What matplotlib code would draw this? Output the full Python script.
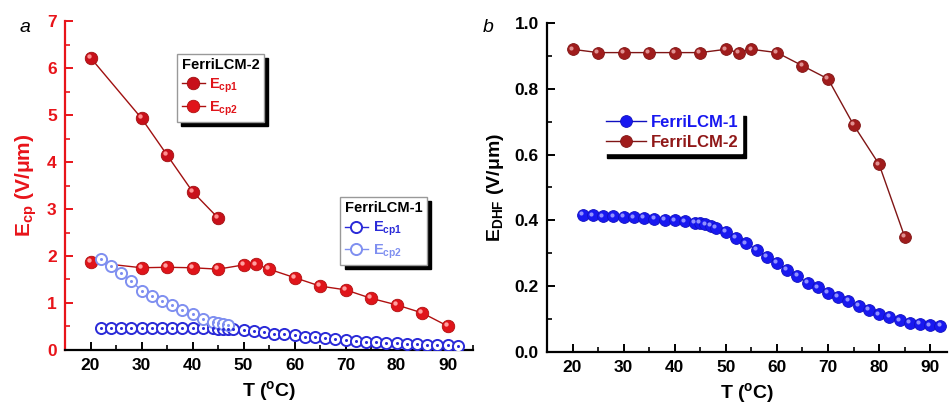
import matplotlib
matplotlib.use("Agg")
import matplotlib.pyplot as plt
import matplotlib.transforms as mtransforms
from matplotlib.ticker import MultipleLocator

plt.rcParams['font.family'] = ['Liberation Sans', 'DejaVu Sans']
plt.rcParams['font.weight'] = 'bold'
plt.rcParams['mathtext.default'] = 'regular'

# panel a: FerriLCM-2
t2_ecp1 = [20, 30, 35, 40, 45]
ecp1_2 = [6.22, 4.93, 4.15, 3.37, 2.81]
t2_ecp2 = [20, 30, 35, 40, 45, 50, 52.5, 55, 60, 65, 70, 75, 80, 85, 90]
ecp2_2 = [1.87, 1.75, 1.76, 1.75, 1.72, 1.81, 1.82, 1.72, 1.54, 1.36, 1.28, 1.10, 0.96, 0.79, 0.51]

# panel a: FerriLCM-1
t1_ecp1 = [22, 24, 26, 28, 30, 32, 34, 36, 38, 40, 42, 44, 45, 46, 47, 48, 50, 52, 54, 56,
           58, 60, 62, 64, 66, 68, 70, 72, 74, 76, 78, 80, 82, 84, 86, 88, 90, 92]
ecp1_1 = [0.47, 0.47, 0.47, 0.47, 0.47, 0.47, 0.47, 0.47, 0.47, 0.47, 0.47, 0.46, 0.455, 0.45,
          0.45, 0.44, 0.43, 0.40, 0.375, 0.35, 0.33, 0.32, 0.28, 0.27, 0.25, 0.23, 0.21, 0.20,
          0.18, 0.16, 0.155, 0.15, 0.135, 0.12, 0.11, 0.105, 0.10, 0.085]
t1_ecp2 = [22, 24, 26, 28, 30, 32, 34, 36, 38, 40, 42, 44, 45, 46, 47]
ecp2_1 = [1.93, 1.79, 1.63, 1.47, 1.26, 1.15, 1.04, 0.96, 0.86, 0.76, 0.67, 0.60, 0.58, 0.55, 0.53]

# panel b
t_dhf2 = [20, 25, 30, 35, 40, 45, 50, 52.5, 55, 60, 65, 70, 75, 80, 85]
dhf2 = [0.92, 0.91, 0.91, 0.91, 0.91, 0.91, 0.92, 0.91, 0.92, 0.91, 0.87, 0.83, 0.69, 0.57, 0.35]
t_dhf1 = [22, 24, 26, 28, 30, 32, 34, 36, 38, 40, 42, 44, 45, 46, 47, 48, 50, 52, 54, 56,
          58, 60, 62, 64, 66, 68, 70, 72, 74, 76, 78, 80, 82, 84, 86, 88, 90, 92]
dhf1 = [0.417, 0.415, 0.412, 0.412, 0.41, 0.409, 0.407, 0.405, 0.402, 0.40, 0.397, 0.393,
        0.392, 0.388, 0.383, 0.377, 0.365, 0.347, 0.33, 0.311, 0.29, 0.27, 0.25, 0.23, 0.21,
        0.196, 0.18, 0.167, 0.154, 0.14, 0.127, 0.114, 0.106, 0.096, 0.089, 0.086, 0.081, 0.079]

fig = plt.figure(figsize=(9.49, 4.18), dpi=100)
ax1 = fig.add_axes([0.0685, 0.1627, 0.43, 0.787])
ax2 = fig.add_axes([0.5764, 0.158, 0.4216, 0.787])


def balls(ax, x, y, color, edge, light, ms=9, lw=1.0, label=None):
    line, = ax.plot(x, y, '-', color=edge, lw=lw, marker='o', ms=ms, mfc=color,
                    mec=edge, mew=0.6, label=label, zorder=3)
    off = mtransforms.ScaledTranslation(-1.3 / 72, 1.3 / 72, fig.dpi_scale_trans)
    ax.plot(x, y, 'o', ms=ms * 0.35, color=light, mec='none',
            transform=ax.transData + off, zorder=4)
    return line


def rings(ax, x, y, color, ms=8, lw=1.0, label=None):
    line, = ax.plot(x, y, '-', color=color, lw=lw, marker='o', ms=ms, mfc='white',
                    mec=color, mew=1.4, label=label, zorder=3)
    ax.plot(x, y, 'o', ms=2.2, color=color, mec='none', zorder=4)
    return line


def style(ax, spine_color='black'):
    for s in ['top', 'right']:
        ax.spines[s].set_visible(False)
    ax.spines['bottom'].set_linewidth(1.6)
    ax.spines['left'].set_linewidth(1.6)
    ax.spines['left'].set_color(spine_color)
    ax.tick_params(which='major', direction='in', length=6, width=1.4, labelsize=12.5, pad=6)
    ax.tick_params(which='minor', direction='in', length=3.5, width=1.2)
    ax.tick_params(axis='y', which='both', color=spine_color, labelcolor=spine_color)
    ax.xaxis.set_major_locator(MultipleLocator(10))
    ax.xaxis.set_minor_locator(MultipleLocator(5))
    for lab in ax.get_xticklabels() + ax.get_yticklabels():
        lab.set_fontweight('bold')


# ---- panel a ----
red = '#e0141a'
dred = '#c8101a'
la1 = balls(ax1, t2_ecp1, ecp1_2, dred, '#a01010', '#ff9090', label='E$_{cp1}$')
la2 = balls(ax1, t2_ecp2, ecp2_2, red, '#b01010', '#ffa0a0', label='E$_{cp2}$')
lb1 = rings(ax1, t1_ecp1, ecp1_1, '#2a2ad8', label='E$_{cp1}$')
lb2 = rings(ax1, t1_ecp2, ecp2_1, '#7f8ff0', label='E$_{cp2}$')
ax1.set_xlim(15, 95)
ax1.set_ylim(0, 7)
ax1.yaxis.set_major_locator(MultipleLocator(1))
ax1.yaxis.set_minor_locator(MultipleLocator(0.5))
style(ax1, spine_color='#e8141a')
ax1.set_xlabel('T ($^o$C)', fontsize=14, fontweight='bold', labelpad=4)
ax1.set_ylabel('E$_{cp}$ (V/\u03bcm)', fontsize=15, fontweight='bold', color='#e8141a', labelpad=6)

shadow = {'color': 'black', 'alpha': 1, 'ox': 3, 'oy': -3}
leg_kw = dict(loc='upper left', fontsize=10.5, title_fontproperties={'weight': 'bold', 'size': 10.5},
              fancybox=False, shadow=shadow, edgecolor='#999999', framealpha=1,
              handlelength=1.6, handletextpad=0.3, borderpad=0.3, labelspacing=0.3,
              alignment='left', borderaxespad=0)
leg1 = ax1.legend(handles=[la1, la2], title='FerriLCM-2', bbox_to_anchor=(0.275, 0.9), **leg_kw)
for txt in leg1.get_texts():
    txt.set_color('#e0141a')
ax1.add_artist(leg1)
leg2 = ax1.legend(handles=[lb1, lb2], title='FerriLCM-1', bbox_to_anchor=(0.675, 0.465), **leg_kw)
leg2.get_texts()[0].set_color('#2a2ad8')
leg2.get_texts()[1].set_color('#7f8ff0')

# ---- panel b ----
l1 = balls(ax2, t_dhf1, dhf1, '#1818f0', '#1010c0', '#9090ff', ms=8.5, label='FerriLCM-1')
l2 = balls(ax2, t_dhf2, dhf2, '#a01c1c', '#801515', '#e09090', ms=8.5, label='FerriLCM-2')
ax2.set_xlim(15, 93.3)
ax2.set_ylim(0, 1.0)
ax2.yaxis.set_major_locator(MultipleLocator(0.2))
ax2.yaxis.set_minor_locator(MultipleLocator(0.1))
ax2.yaxis.set_major_formatter(matplotlib.ticker.FormatStrFormatter('%.1f'))
style(ax2)
ax2.set_xlabel('T ($^o$C)', fontsize=14, fontweight='bold', labelpad=4)
ax2.set_ylabel('E$_{DHF}$ (V/\u03bcm)', fontsize=14, fontweight='bold', labelpad=6)
leg3 = ax2.legend(handles=[l1, l2], loc='upper left', bbox_to_anchor=(0.14, 0.73),
                  fontsize=12, fancybox=False, shadow=shadow, edgecolor='white', framealpha=1,
                  handlelength=2.4, handletextpad=0.3, borderpad=0.2, labelspacing=0.3,
                  borderaxespad=0)
leg3.get_texts()[0].set_color('#1818f0')
leg3.get_texts()[1].set_color('#901818')

fig.text(0.021, 0.955, 'a', fontsize=14, style='italic', fontweight='normal', ha='left', va='top')
fig.text(0.509, 0.955, 'b', fontsize=14, style='italic', fontweight='normal', ha='left', va='top')

fig.savefig('out.png', dpi=100)
